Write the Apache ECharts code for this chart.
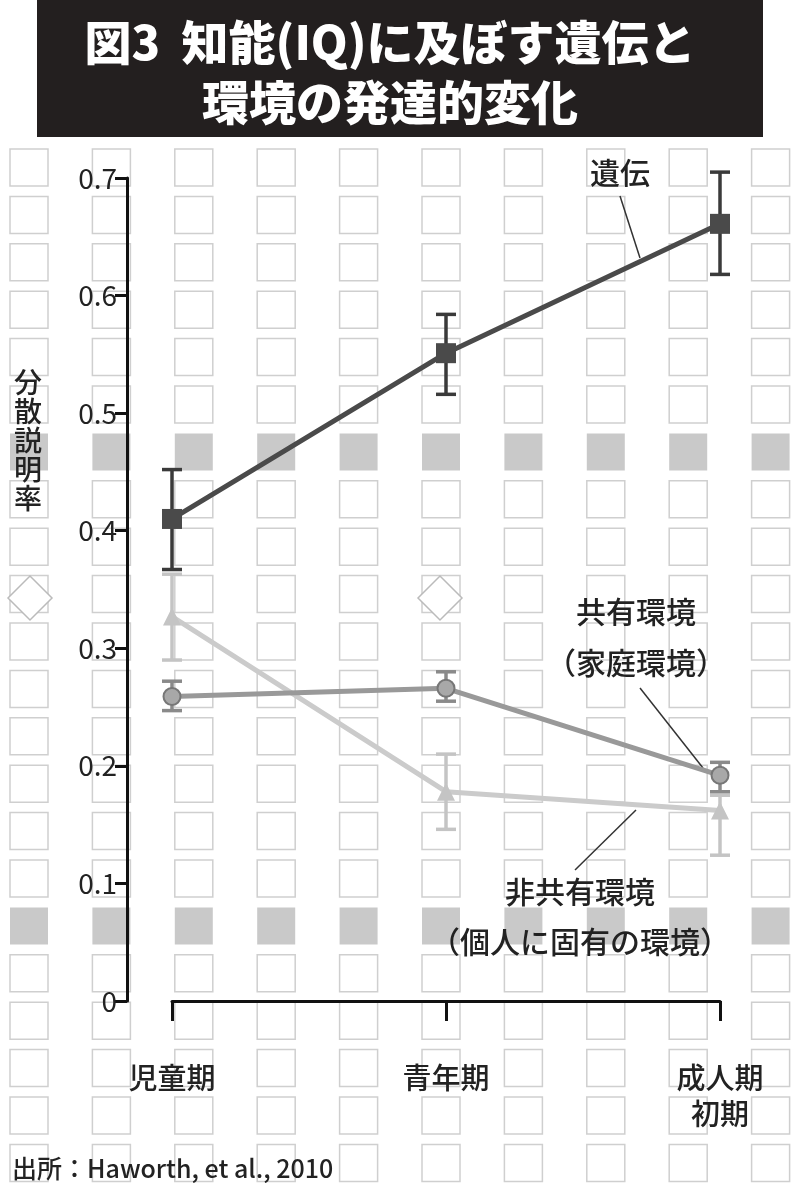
<!DOCTYPE html>
<html><head><meta charset="utf-8">
<script src="https://cdn.jsdelivr.net/npm/echarts@6/dist/echarts.min.js"></script>
<style>html,body{margin:0;padding:0;background:#fff}#c{width:800px;height:1200px}</style>
</head><body><div id="c"></div>
<script>
const categories = ['児童期', '青年期', '成人期\n初期'];
const heredity = [0.41, 0.551, 0.661];
const heredityLow = [0.367, 0.516, 0.618];
const heredityHigh = [0.452, 0.584, 0.705];
const shared = [0.259, 0.266, 0.192];
const sharedLow = [0.247, 0.255, 0.178];
const sharedHigh = [0.272, 0.28, 0.203];
const nonshared = [0.327, 0.178, 0.162];
const nonsharedLow = [0.29, 0.146, 0.124];
const nonsharedHigh = [0.363, 0.21, 0.175];
const yTicks = [0, 0.1, 0.2, 0.3, 0.4, 0.5, 0.6, 0.7];

const FONT = '"Noto Sans CJK JP", sans-serif';
const bg = [];
for (let i = 0; i < 22; i++) {
  const y = 149 + 47.4 * i;
  if (y > 1165) break;
  const filled = Math.abs(y - 433) < 5 || Math.abs(y - 907) < 5;
  for (let j = 0; j < 10; j++) {
    const x = 10 + 82.4 * j;
    bg.push({type: 'rect', z: -10, silent: true,
      shape: {x: x, y: y, width: 38, height: 37},
      style: filled ? {fill: '#c9c9c9', stroke: null} : {fill: 'none', stroke: '#cfcfcf', lineWidth: 1.5}});
  }
}
function diamond(cx, cy) {
  return {type: 'polygon', z: -5, shape: {points: [[cx, cy - 22], [cx + 22, cy], [cx, cy + 22], [cx - 22, cy]]},
    style: {fill: '#fff', stroke: '#bbb', lineWidth: 1.5}};
}
bg.push(diamond(30, 598), diamond(440, 598));

function errSeries(low, high, color) {
  return {type: 'custom', z: 3,
    data: low.map((l, i) => [i, l, high[i]]),
    renderItem: function (params, api) {
      const p1 = api.coord([api.value(0), api.value(1)]);
      const p2 = api.coord([api.value(0), api.value(2)]);
      const w = 10;
      const st = {stroke: color, lineWidth: 3.5, fill: 'none'};
      return {type: 'group', children: [
        {type: 'line', shape: {x1: p1[0], y1: p1[1], x2: p2[0], y2: p2[1]}, style: st},
        {type: 'line', shape: {x1: p1[0] - w, y1: p1[1], x2: p1[0] + w, y2: p1[1]}, style: st},
        {type: 'line', shape: {x1: p2[0] - w, y1: p2[1], x2: p2[0] + w, y2: p2[1]}, style: st}
      ]};
    }};
}
const T = '500 30px ' + FONT;
const chart = echarts.init(document.getElementById('c'));
chart.setOption({
  animation: false,
  grid: {left: 172, right: 80, top: 178, bottom: 199},
  xAxis: {type: 'category', data: categories, boundaryGap: false, offset: 31,
    axisLine: {lineStyle: {color: '#111', width: 3}},
    axisTick: {length: 20, lineStyle: {color: '#111', width: 3}},
    axisLabel: {fontFamily: FONT, fontSize: 29, fontWeight: 500, color: '#222', margin: 28, lineHeight: 36}},
  yAxis: {type: 'value', min: 0, max: 0.7, interval: 0.1, offset: 45,
    axisLine: {show: true, lineStyle: {color: '#111', width: 3}},
    axisTick: {show: true, length: 12, lineStyle: {color: '#111', width: 3}},
    splitLine: {show: false},
    axisLabel: {fontFamily: FONT, fontSize: 28, color: '#222', margin: 10,
      formatter: v => yTicks.includes(Math.round(v * 10) / 10) ? (v === 0 ? '0' : v.toFixed(1)) : ''}},
  graphic: bg.concat([
    {type: 'rect', shape: {x: 37, y: 0, width: 726, height: 137}, style: {fill: '#231f1f'}},
    {type: 'text', x: 390, y: 42, style: {text: '図3  知能(IQ)に及ぼす遺伝と', fill: '#fff', font: '900 47px ' + FONT, align: 'center', verticalAlign: 'middle'}},
    {type: 'text', x: 390, y: 102, style: {text: '環境の発達的変化', fill: '#fff', font: '900 47px ' + FONT, align: 'center', verticalAlign: 'middle'}},
    {type: 'text', x: 28, y: 440, style: {text: '分\n散\n説\n明\n率', fill: '#222', font: '500 28px ' + FONT, align: 'center', verticalAlign: 'middle', lineHeight: 29}},
    {type: 'text', x: 620, y: 173, style: {text: '遺伝', fill: '#222', font: T, align: 'center', verticalAlign: 'middle'}},
    {type: 'line', shape: {x1: 620, y1: 196, x2: 640, y2: 258}, style: {stroke: '#333', lineWidth: 1.5}},
    {type: 'text', x: 636, y: 612, style: {text: '共有環境', fill: '#222', font: T, align: 'center', verticalAlign: 'middle'}},
    {type: 'text', x: 636, y: 663, style: {text: '（家庭環境）', fill: '#222', font: T, align: 'center', verticalAlign: 'middle'}},
    {type: 'line', shape: {x1: 640, y1: 688, x2: 703, y2: 768}, style: {stroke: '#333', lineWidth: 1.5}},
    {type: 'text', x: 580, y: 892, style: {text: '非共有環境', fill: '#222', font: T, align: 'center', verticalAlign: 'middle'}},
    {type: 'text', x: 580, y: 942, style: {text: '（個人に固有の環境）', fill: '#222', font: T, align: 'center', verticalAlign: 'middle'}},
    {type: 'line', shape: {x1: 575, y1: 870, x2: 636, y2: 810}, style: {stroke: '#333', lineWidth: 1.5}},
    {type: 'text', x: 12, y: 1168, style: {text: '出所：Haworth, et al., 2010', fill: '#222', font: '500 25px ' + FONT, align: 'left', verticalAlign: 'middle'}}
  ]),
  series: [
    errSeries(nonsharedLow, nonsharedHigh, '#c4c4c4'),
    {type: 'line', data: nonshared, z: 4, symbol: 'triangle', symbolSize: 18,
      lineStyle: {color: '#cbcbcb', width: 5}, itemStyle: {color: '#c4c4c4'}},
    errSeries(sharedLow, sharedHigh, '#8a8a8a'),
    {type: 'line', data: shared, z: 5, symbol: 'circle', symbolSize: 17,
      lineStyle: {color: '#999', width: 5}, itemStyle: {color: '#a8a8a8', borderColor: '#777', borderWidth: 2}},
    errSeries(heredityLow, heredityHigh, '#3a3a3a'),
    {type: 'line', data: heredity, z: 6, symbol: 'rect', symbolSize: 20,
      lineStyle: {color: '#4a4a4a', width: 5}, itemStyle: {color: '#4a4a4a'}}
  ]
});
</script></body></html>
